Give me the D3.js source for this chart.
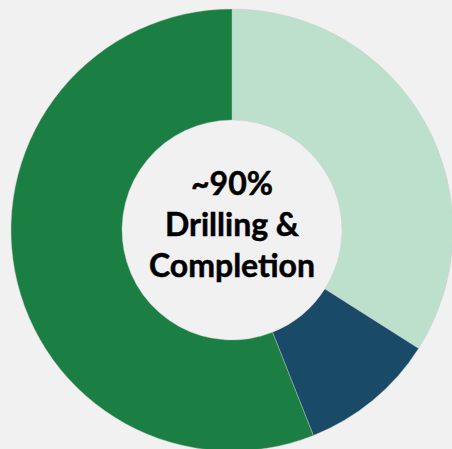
<!DOCTYPE html>
<html>
<head>
<meta charset="utf-8">
<script src="https://cdn.jsdelivr.net/npm/d3@7"></script>
<style>
  body { margin: 0; background: #f1f1f1; }
  svg { display: block; }
</style>
</head>
<body>
<svg id="draw"></svg>
<script>
// slice data, clockwise from 12 o'clock
var categories = ["Completion", "Other", "Drilling"];
var values = [34, 10, 56];
var colors = ["#bde0cd", "#194b68", "#1b7f44"];
var centerLines = ["~90%", "Drilling &", "Completion"];

var width = 452, height = 449;
var cx = 232, cy = 230;
var outerR = 221, innerR = 110;

var svg = d3.select("#draw")
  .attr("width", width)
  .attr("height", height);

svg.append("rect")
  .attr("width", width)
  .attr("height", height)
  .attr("fill", "#f1f1f1");

var g = svg.append("g")
  .attr("transform", "translate(" + cx + "," + cy + ")");

var data = categories.map(function(c, i) {
  return { name: c, value: values[i], color: colors[i] };
});

var pie = d3.pie()
  .sort(null)
  .value(function(d) { return d.value; });

var arc = d3.arc()
  .innerRadius(innerR)
  .outerRadius(outerR);

g.selectAll(".slice")
  .data(pie(data))
  .enter().append("path")
  .attr("class", "slice")
  .attr("d", arc)
  .attr("fill", function(d) { return d.data.color; })
  .attr("stroke", "#c8c8c8")
  .attr("stroke-width", 0.4);

// center label
var lineH = 41;
g.selectAll(".label")
  .data(centerLines)
  .enter().append("text")
  .attr("class", "label")
  .attr("text-anchor", "middle")
  .attr("x", 0)
  .attr("y", function(d, i) { return -35 + i * lineH; })
  .attr("font-family", "Lato, 'Open Sans', sans-serif")
  .attr("font-weight", "bold")
  .attr("font-size", 32)
  .attr("fill", "#000")
  .attr("stroke", "#000")
  .attr("stroke-width", 0.5)
  .text(function(d) { return d; });
</script>
</body>
</html>
